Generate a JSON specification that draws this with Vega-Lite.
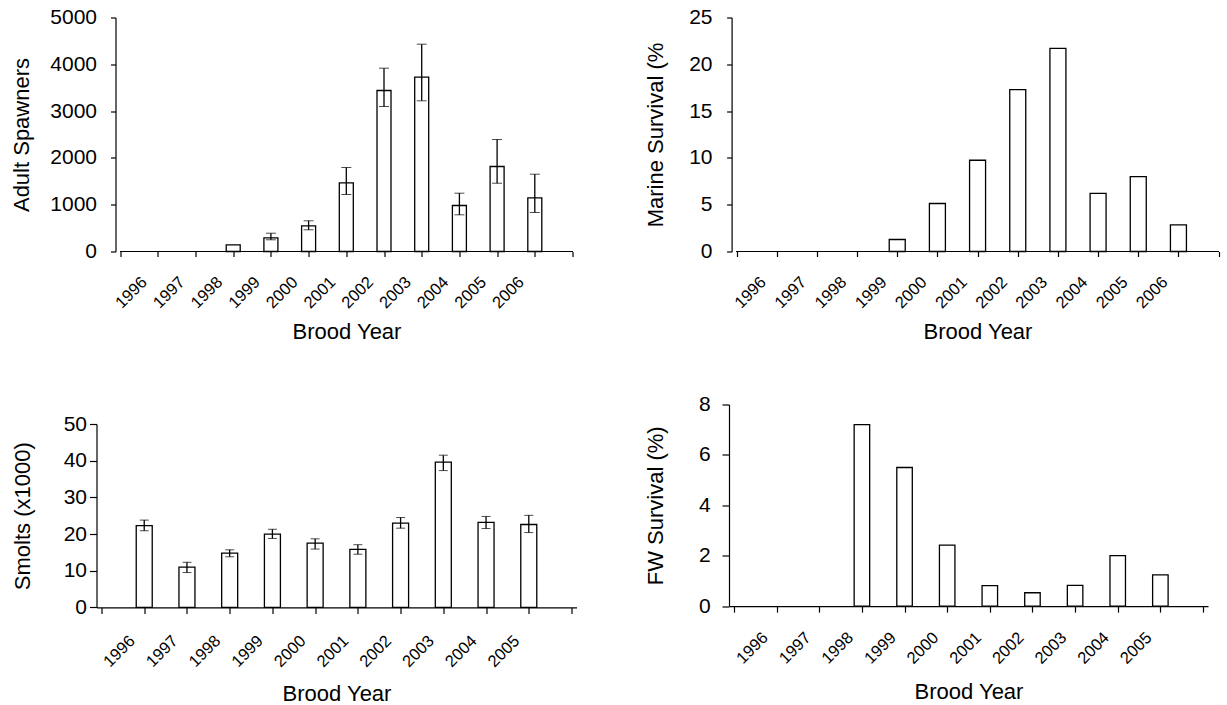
{
  "$schema": "https://vega.github.io/schema/vega-lite/v6.json",
  "background": "white",
  "padding": {"left": 10.5, "top": 6.5, "right": 0, "bottom": 0},
  "config": {
    "view": {"stroke": null},
    "font": "Liberation Sans",
    "axis": {"domainColor": "#000", "tickColor": "#000", "labelColor": "#000", "titleColor": "#000", "grid": false, "labelFont": "Liberation Sans", "titleFont": "Liberation Sans", "titleFontWeight": "normal", "domainWidth": 1.2, "tickWidth": 1.2, "labelFlush": false, "labelOverlap": false, "labelBound": false},
    "axisX": {"labelAngle": -45, "labelAlign": "right", "labelBaseline": "top", "labelFontSize": 16.5, "titleFontSize": 22, "format": "d"},
    "axisY": {"labelFontSize": 21, "titleFontSize": 22}
  },
  "datasets": {
    "a": [
      {"year": 1998, "value": 143, "lo": null, "hi": null},
      {"year": 1999, "value": 293, "lo": 250, "hi": 391},
      {"year": 2000, "value": 549, "lo": 464, "hi": 656},
      {"year": 2001, "value": 1468, "lo": 1218, "hi": 1795},
      {"year": 2002, "value": 3440, "lo": 3098, "hi": 3917},
      {"year": 2003, "value": 3725, "lo": 3220, "hi": 4430},
      {"year": 2004, "value": 983, "lo": 784, "hi": 1246},
      {"year": 2005, "value": 1816, "lo": 1459, "hi": 2393},
      {"year": 2006, "value": 1147, "lo": 833, "hi": 1652}
    ],
    "b": [
      {"year": 1999, "value": 1.28},
      {"year": 2000, "value": 5.13},
      {"year": 2001, "value": 9.75},
      {"year": 2002, "value": 17.3},
      {"year": 2003, "value": 21.7},
      {"year": 2004, "value": 6.2},
      {"year": 2005, "value": 8.0},
      {"year": 2006, "value": 2.85}
    ],
    "c": [
      {"year": 1996, "value": 22.3, "lo": 20.9, "hi": 23.8},
      {"year": 1997, "value": 11.0, "lo": 9.5, "hi": 12.3},
      {"year": 1998, "value": 14.8, "lo": 13.8, "hi": 15.7},
      {"year": 1999, "value": 20.0, "lo": 18.8, "hi": 21.3},
      {"year": 2000, "value": 17.5, "lo": 15.9, "hi": 18.7},
      {"year": 2001, "value": 15.8, "lo": 14.5, "hi": 17.1},
      {"year": 2002, "value": 23.0, "lo": 21.6, "hi": 24.5},
      {"year": 2003, "value": 39.6, "lo": 37.3, "hi": 41.5},
      {"year": 2004, "value": 23.2, "lo": 21.5, "hi": 24.8},
      {"year": 2005, "value": 22.6, "lo": 20.4, "hi": 25.1}
    ],
    "d": [
      {"year": 1998, "value": 7.2},
      {"year": 1999, "value": 5.5},
      {"year": 2000, "value": 2.42},
      {"year": 2001, "value": 0.81},
      {"year": 2002, "value": 0.53},
      {"year": 2003, "value": 0.82},
      {"year": 2004, "value": 2.0},
      {"year": 2005, "value": 1.24}
    ]
  },
  "spacing": 66.5,
  "hconcat": [
    {
      "columns": 1,
      "align": "none",
      "spacing": 70.5,
      "concat": [
        {
          "width": 481, "height": 234,
          "data": {"name": "a"},
          "encoding": {
            "x": {"field": "year", "type": "quantitative", "scale": {"domain": [1994.5065, 2007], "nice": false, "zero": false},
              "axis": {"title": "Brood Year", "titleX": 250, "domain": false, "values": [1995, 1996, 1997, 1998, 1999, 2000, 2001, 2002, 2003, 2004, 2005, 2006, 2007], "labelExpr": "datum.value < 1996 || datum.value > 2006 ? '' : datum.label", "labelOffset": -19.5, "labelPadding": 17, "tickSize": 5, "titlePadding": 10}},
            "y": {"field": "value", "type": "quantitative", "scale": {"domain": [0, 5000], "nice": false},
              "axis": {"title": "Adult Spawners", "offset": -19, "values": [0, 1000, 2000, 3000, 4000, 5000], "format": "d", "tickSize": 5, "labelPadding": 14, "titlePadding": 15.8}}
          },
          "layer": [
            {
              "mark": {"type": "rule", "color": "black", "strokeWidth": 1.2},
              "encoding": {"x": {"datum": 1995}, "x2": {"datum": 2007}, "y": {"datum": 0}}
            },
            {
              "mark": {"type": "bar", "orient": "vertical", "size": 14, "fill": "white", "stroke": "black", "strokeWidth": 1.3}
            },
            {
              "transform": [{"filter": "isValid(datum.lo)"}],
              "mark": {"type": "errorbar", "ticks": {"size": 10, "color": "black", "strokeWidth": 1.3}, "rule": {"color": "black", "strokeWidth": 1.3}},
              "encoding": {
                "y": {"field": "lo", "type": "quantitative",
                  "axis": {"title": "Adult Spawners", "offset": -19, "values": [0, 1000, 2000, 3000, 4000, 5000], "format": "d", "tickSize": 5, "labelPadding": 14, "titlePadding": 15.8}},
                "y2": {"field": "hi"}
              }
            },
            {
              "data": {"values": [{"letter": "a"}]},
              "mark": {"type": "text", "fontSize": 22, "align": "left", "baseline": "alphabetic", "color": "black"},
              "encoding": {"text": {"field": "letter"}, "x": {"datum": 1995.52}, "y": {"datum": 4652}}
            }
          ]
        },
        {
          "width": 480, "height": 183.4,
          "data": {"name": "c"},
          "encoding": {
            "x": {"field": "year", "type": "quantitative", "scale": {"domain": [1995, 2006], "nice": false, "zero": false},
              "axis": {"title": "Brood Year", "values": [1995, 1996, 1997, 1998, 1999, 2000, 2001, 2002, 2003, 2004, 2005, 2006], "labelExpr": "datum.value < 1996 || datum.value > 2005 ? '' : datum.label", "labelOffset": -18, "labelPadding": 19, "tickSize": 6, "titlePadding": 13.6}},
            "y": {"field": "value", "type": "quantitative", "scale": {"domain": [0, 50], "nice": false},
              "axis": {"title": "Smolts (x1000)", "values": [0, 10, 20, 30, 40, 50], "tickSize": 7, "labelPadding": 3, "titlePadding": 28.8}}
          },
          "layer": [
            {
              "mark": {"type": "bar", "orient": "vertical", "size": 16, "fill": "white", "stroke": "black", "strokeWidth": 1.3}
            },
            {
              "mark": {"type": "errorbar", "ticks": {"size": 9, "color": "black", "strokeWidth": 1.3}, "rule": {"color": "black", "strokeWidth": 1.3}},
              "encoding": {
                "y": {"field": "lo", "type": "quantitative",
                  "axis": {"title": "Smolts (x1000)", "values": [0, 10, 20, 30, 40, 50], "tickSize": 7, "labelPadding": 3, "titlePadding": 28.8}},
                "y2": {"field": "hi"}
              }
            },
            {
              "data": {"values": [{"letter": "c"}]},
              "mark": {"type": "text", "fontSize": 22, "align": "left", "baseline": "alphabetic", "color": "black"},
              "encoding": {"text": {"field": "letter"}, "x": {"datum": 1995.47}, "y": {"datum": 45.9}}
            }
          ]
        }
      ]
    },
    {
      "columns": 1,
      "align": "none",
      "spacing": 51,
      "concat": [
        {
          "width": 494.6, "height": 234,
          "data": {"name": "b"},
          "encoding": {
            "x": {"field": "year", "type": "quantitative", "scale": {"domain": [1994.9366, 2007], "nice": false, "zero": false},
              "axis": {"title": "Brood Year", "titleX": 248.5, "domain": false, "values": [1995, 1996, 1997, 1998, 1999, 2000, 2001, 2002, 2003, 2004, 2005, 2006, 2007], "labelExpr": "datum.value < 1996 || datum.value > 2006 ? '' : datum.label", "labelOffset": -19.3, "labelPadding": 17, "tickSize": 5, "titlePadding": 10}},
            "y": {"field": "value", "type": "quantitative", "scale": {"domain": [0, 25], "nice": false},
              "axis": {"title": "Marine Survival (%", "offset": -2.6, "values": [0, 5, 10, 15, 20, 25], "tickSize": 5, "labelPadding": 14.6, "titlePadding": 20.8}}
          },
          "layer": [
            {
              "mark": {"type": "rule", "color": "black", "strokeWidth": 1.2},
              "encoding": {"x": {"datum": 1995}, "x2": {"datum": 2007}, "y": {"datum": 0}}
            },
            {
              "mark": {"type": "bar", "orient": "vertical", "size": 16, "fill": "white", "stroke": "black", "strokeWidth": 1.3}
            },
            {
              "data": {"values": [{"letter": "b"}]},
              "mark": {"type": "text", "fontSize": 22, "align": "left", "baseline": "alphabetic", "color": "black"},
              "encoding": {"text": {"field": "letter"}, "x": {"datum": 1995.47}, "y": {"datum": 22.7}}
            }
          ]
        },
        {
          "width": 479, "height": 201.6,
          "data": {"name": "d"},
          "encoding": {
            "x": {"field": "year", "type": "quantitative", "scale": {"domain": [1995, 2006], "nice": false, "zero": false},
              "axis": {"title": "Brood Year", "values": [1995, 1996, 1997, 1998, 1999, 2000, 2001, 2002, 2003, 2004, 2005, 2006], "labelExpr": "datum.value < 1996 || datum.value > 2005 ? '' : datum.label", "labelOffset": -17.3, "labelPadding": 17, "tickSize": 6, "titlePadding": 15}},
            "y": {"field": "value", "type": "quantitative", "scale": {"domain": [0, 8], "nice": false},
              "axis": {"title": "FW Survival (%)", "values": [0, 2, 4, 6, 8], "tickSize": 7, "labelPadding": 11.7, "titlePadding": 30.8}}
          },
          "layer": [
            {
              "mark": {"type": "bar", "orient": "vertical", "size": 15.5, "fill": "white", "stroke": "black", "strokeWidth": 1.3}
            },
            {
              "data": {"values": [{"letter": "d"}]},
              "mark": {"type": "text", "fontSize": 22, "align": "left", "baseline": "alphabetic", "color": "black"},
              "encoding": {"text": {"field": "letter"}, "x": {"datum": 1995.42}, "y": {"datum": 7.29}}
            }
          ]
        }
      ]
    }
  ]
}
